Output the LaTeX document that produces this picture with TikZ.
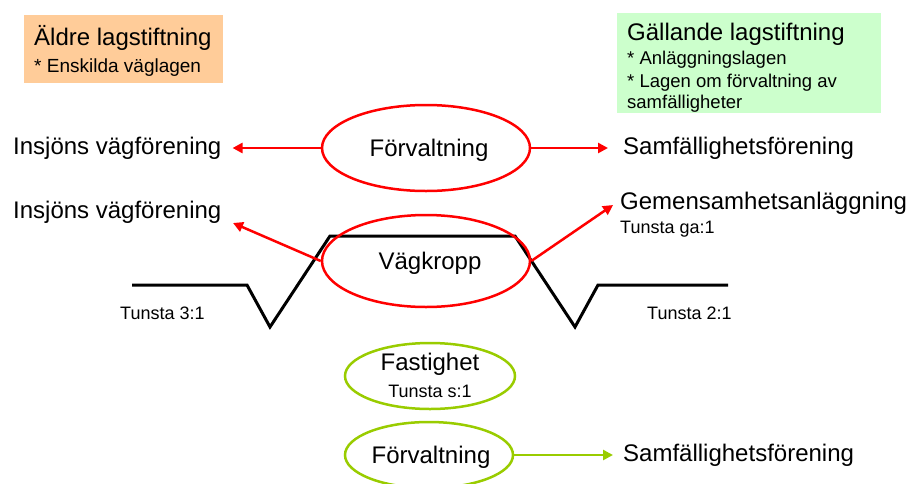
\documentclass[tikz,border=0pt]{standalone}
\usepackage{fontspec}
\setmainfont{Liberation Sans}
\usetikzlibrary{arrows.meta,shapes.geometric}
\definecolor{myred}{RGB}{255,0,0}
\definecolor{mygreen}{RGB}{153,204,0}
\definecolor{boxorange}{RGB}{255,204,153}
\definecolor{boxgreen}{RGB}{204,255,204}
\tikzset{
  big/.style={font=\fontsize{24}{28}\selectfont, inner sep=0pt, anchor=west},
  small/.style={font=\fontsize{18}{22}\selectfont, inner sep=0pt, anchor=west},
  redell/.style={ellipse, draw=myred, line width=2.5pt, inner sep=0pt},
  greenell/.style={ellipse, draw=mygreen, line width=2.5pt, inner sep=0pt},
  redarrow/.style={draw=myred, line width=2.5pt, -{Triangle[length=10pt,width=10pt]}},
  greenarrow/.style={draw=mygreen, line width=2.5pt, -{Triangle[length=10pt,width=10pt]}},
  road/.style={draw=black, line width=3pt, line join=miter},
}
\begin{document}
\begin{tikzpicture}[x=1pt,y=-1pt]
\useasboundingbox (0,0) rectangle (910,483);
\begin{scope}
\clip (0,0) rectangle (910,483);
% legend boxes
\fill[boxorange] (24,15) rectangle (223,83);
\node[big] (aldre) at (34,38) {Äldre lagstiftning};
\node[small, font=\fontsize{19}{22}\selectfont] (enskilda) at (34,68) {* Enskilda väglagen};
\fill[boxgreen] (617,13) rectangle (881,113);
\node[big] (gallande) at (627,34) {Gällande lagstiftning};
\node[small, font=\fontsize{18.5}{22}\selectfont] (anl) at (627,60) {* Anläggningslagen};
\node[small, font=\fontsize{18.5}{22}\selectfont] (lagen) at (627,83) {* Lagen om förvaltning av};
\node[small, font=\fontsize{18.5}{22}\selectfont] (samf) at (627,104) {samfälligheter};
% road profile
\draw[road] (132,285) -- (247,285) -- (270,327) -- (330,236) -- (515,236) -- (575,327) -- (598,285) -- (728,285);
% ellipses
\node[redell, minimum width=208pt, minimum height=86pt] (forv1) at (426,148) {};
\node[big, anchor=center] (forv1t) at (429,150) {Förvaltning};
\node[redell, minimum width=208pt, minimum height=92pt] (vk) at (426,261) {};
\node[big, anchor=center] (vkt) at (430,263) {Vägkropp};
\node[greenell, minimum width=170pt, minimum height=66pt] (fast) at (430,376) {};
\node[big, anchor=center] (fastt) at (430,364) {Fastighet};
\node[small, anchor=center] (tunstas) at (430,391) {Tunsta s:1};
\node[greenell, minimum width=168pt, minimum height=66pt] (forv2) at (429,455) {};
\node[big, anchor=center] (forv2t) at (431,457) {Förvaltning};
% labels
\node[big] (ins1) at (13,148) {Insjöns vägförening};
\node[big] (samf1) at (623,148) {Samfällighetsförening};
\node[big] (ins2) at (13,212) {Insjöns vägförening};
\node[big] (ga) at (620,203) {Gemensamhetsanläggning};
\node[small] (tunstaga) at (620,229) {Tunsta ga:1};
\node[small] (t31) at (120,313) {Tunsta 3:1};
\node[small] (t21) at (647,313) {Tunsta 2:1};
\node[big] (samf2) at (623,455) {Samfällighetsförening};
\coordinate (tipins2) at (233,223);
\coordinate (tipga) at (613,205);
% arrows
\draw[redarrow, shorten >=11pt] (forv1.west) -- (ins1.east);
\draw[redarrow, shorten >=15pt] (forv1.east) -- (samf1.west);
\draw[redarrow] (vk.west) -- (tipins2);
\draw[redarrow] (vk.east) -- (tipga);
\draw[greenarrow, shorten >=10pt] (forv2.east) -- (samf2.west);
\end{scope}
\end{tikzpicture}
\end{document}
